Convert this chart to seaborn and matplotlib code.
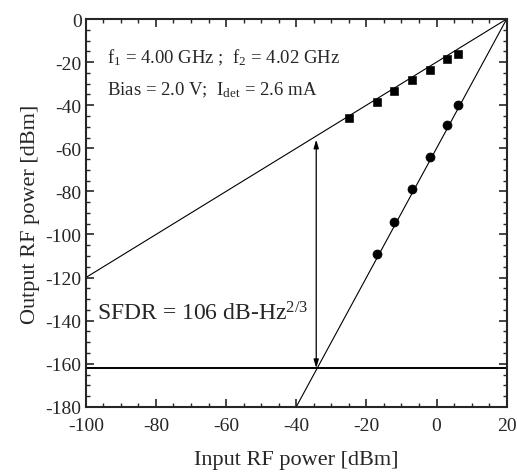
import numpy as np
import pandas as pd
import matplotlib
matplotlib.use("Agg")
import matplotlib.pyplot as plt
import seaborn as sns
from matplotlib.ticker import MultipleLocator

# measured points
fund_in = [-25, -17, -12, -7, -2, 3, 6]
fund_out = [-46, -38.5, -33.5, -28.5, -23.5, -18.5, -16]
im3_in = [-17, -12, -7, -2, 3, 6]
im3_out = [-109, -94, -79, -64, -49, -40]

# fitted lines (slope, intercept point) and noise floor
ip3_in = 20.0
ip3_out = 0.0
fund_slope = 1.0
im3_slope = 3.0
noise_floor = -162.0
sfdr_x = -34.3

sns.set_style("ticks")
plt.rcParams["font.family"] = ["Liberation Serif", "DejaVu Serif"]
plt.rcParams["mathtext.fontset"] = "custom"
plt.rcParams["mathtext.rm"] = "Liberation Serif"
plt.rcParams["mathtext.it"] = "Liberation Serif"
plt.rcParams["axes.unicode_minus"] = False

fig = plt.figure(figsize=(5.17, 4.77), dpi=100)
ax = fig.add_axes([0.166, 0.145, 0.814, 0.813])

x_fund = np.array([-100, ip3_in])
y_fund = ip3_out + fund_slope * (x_fund - ip3_in)
x_im3 = np.array([ip3_in + (-180 - ip3_out) / im3_slope, ip3_in])
y_im3 = ip3_out + im3_slope * (x_im3 - ip3_in)

ax.plot(x_fund, y_fund, color="black", lw=0.8)
ax.plot(x_im3, y_im3, color="black", lw=0.8)
ax.axhline(noise_floor, color="black", lw=1.4)

sns.scatterplot(x=fund_in, y=fund_out, marker="s", s=30, color="black",
                edgecolor="black", ax=ax, zorder=5)
sns.scatterplot(x=im3_in, y=im3_out, marker="o", s=42, color="black",
                edgecolor="black", ax=ax, zorder=5)

ax.annotate("", xy=(sfdr_x, -56), xytext=(sfdr_x, noise_floor),
            arrowprops=dict(arrowstyle="<|-|>,head_length=0.5,head_width=0.15",
                            color="black", lw=0.9, shrinkA=0, shrinkB=0))

ax.text(-94, -20, r"f$_1$ = 4.00 GHz ;  f$_2$ = 4.02 GHz", fontsize=13.5)
ax.text(-94, -35, r"Bias = 2.0 V;  I$_{\rm det}$ = 2.6 mA", fontsize=13.5)
ax.text(-96.7, -139.5, r"SFDR = 106 dB-Hz$^{2/3}$", fontsize=17)

ax.set_xlim(-100, 20)
ax.set_ylim(-180, 0)
ax.xaxis.set_major_locator(MultipleLocator(20))
ax.xaxis.set_minor_locator(MultipleLocator(5))
ax.yaxis.set_major_locator(MultipleLocator(20))
ax.yaxis.set_minor_locator(MultipleLocator(5))
ax.tick_params(which="both", direction="in", top=True, right=True, labelsize=14)
ax.tick_params(axis="x", pad=7)
ax.tick_params(axis="y", pad=3)
ax.tick_params(which="major", length=6, width=1.2)
ax.tick_params(which="minor", length=3, width=1.0)
for s in ax.spines.values():
    s.set_linewidth(1.5)

ax.set_xlabel("Input RF power [dBm]", fontsize=16, labelpad=12)
ax.set_ylabel("Output RF power [dBm]", fontsize=16, labelpad=4)

fig.savefig("out.png", dpi=100)
